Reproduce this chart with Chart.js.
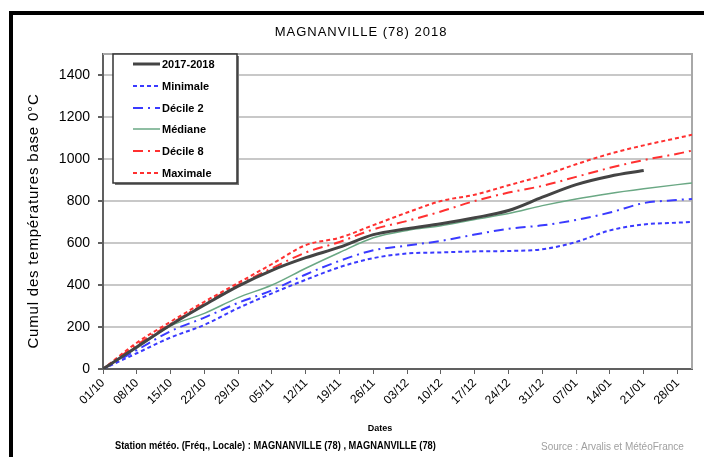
<!DOCTYPE html>
<html>
<head>
<meta charset="utf-8">
<script src="https://cdn.jsdelivr.net/npm/chart.js@4/dist/chart.umd.min.js"></script>
<style>
  html, body { margin: 0; padding: 0; background: #fff; }
  #wrap { width: 704px; height: 457px; position: relative; }
</style>
</head>
<body>
<div id="wrap"><canvas id="chart" width="704" height="457"></canvas></div>
<script>
// ── Data — days counted from 01/10 ──
const days       = [0, 7, 14, 21, 28, 35, 42, 49, 56, 63, 70, 77, 84, 91, 98, 105, 112, 119, 122];
const tickDays   = [0, 7, 14, 21, 28, 35, 42, 49, 56, 63, 70, 77, 84, 91, 98, 105, 112, 119];
const tickLabels = ["01/10", "08/10", "15/10", "22/10", "29/10", "05/11", "12/11", "19/11", "26/11",
                    "03/12", "10/12", "17/12", "24/12", "31/12", "07/01", "14/01", "21/01", "28/01"];
const yTicks     = [0, 200, 400, 600, 800, 1000, 1200, 1400];

const season   = [0, 105, 210, 305, 395, 470, 530, 580, 640, 668, 692, 720, 755, 818, 878, 918, 945];
const minimale = [0, 75, 150, 210, 290, 360, 425, 485, 528, 550, 555, 560, 562, 570, 605, 660, 688, 697, 700];
const decile2  = [0, 90, 180, 245, 315, 375, 450, 515, 565, 588, 610, 640, 668, 684, 710, 745, 790, 805, 810];
const mediane  = [0, 100, 205, 265, 340, 400, 480, 555, 625, 660, 682, 712, 740, 778, 810, 836, 858, 878, 886];
const decile8  = [0, 115, 215, 310, 400, 480, 555, 605, 665, 705, 750, 800, 840, 872, 915, 958, 995, 1025, 1040];
const maximale = [0, 125, 225, 320, 410, 500, 590, 625, 685, 745, 800, 830, 875, 920, 975, 1025, 1065, 1100, 1115];

const seriesNames = ["2017-2018", "Minimale", "Décile 2", "Médiane", "Décile 8", "Maximale"];

function toPoints(values) {
  return values.map((v, i) => ({ x: days[i], y: v }));
}

const BLUE  = "#3a3aff";
const RED   = "#ff3030";
const GREEN = "#6aa884";

const datasets = [
  { label: seriesNames[0], data: toPoints(season),   borderColor: "#444444", borderWidth: 3,   borderDash: [] },
  { label: seriesNames[1], data: toPoints(minimale), borderColor: BLUE,      borderWidth: 2,   borderDash: [4, 3] },
  { label: seriesNames[2], data: toPoints(decile2),  borderColor: BLUE,      borderWidth: 2,   borderDash: [10, 5, 2, 5] },
  { label: seriesNames[3], data: toPoints(mediane),  borderColor: GREEN,     borderWidth: 1.5, borderDash: [] },
  { label: seriesNames[4], data: toPoints(decile8),  borderColor: RED,       borderWidth: 2,   borderDash: [10, 5, 2, 5] },
  { label: seriesNames[5], data: toPoints(maximale), borderColor: RED,       borderWidth: 2,   borderDash: [4, 3] },
].map(d => Object.assign(d, { pointRadius: 0, fill: false, tension: 0.3, cubicInterpolationMode: "monotone" }));

// ── Frame, legend box and loose texts ──
const decor = {
  id: "decor",
  beforeDraw(chart) {
    const ctx = chart.ctx;
    ctx.save();
    ctx.fillStyle = "#fff";
    ctx.fillRect(0, 0, chart.width, chart.height);
    ctx.strokeStyle = "#000";
    ctx.lineWidth = 4;
    ctx.strokeRect(11, 13, 720, 470);
    ctx.restore();
  },
  beforeDatasetsDraw(chart) {
    const { ctx, chartArea: a } = chart;
    ctx.save();
    ctx.strokeStyle = "#a8a8a8";
    ctx.lineWidth = 2;
    ctx.beginPath();
    ctx.moveTo(a.left, a.top);
    ctx.lineTo(a.right, a.top);
    ctx.lineTo(a.right, a.bottom);
    ctx.stroke();
    ctx.restore();
  },
  afterDraw(chart) {
    const ctx = chart.ctx;
    ctx.save();

    // title
    ctx.fillStyle = "#000";
    ctx.font = '13px "Liberation Sans", Arial, sans-serif';
    ctx.textAlign = "center";
    ctx.textBaseline = "middle";
    ctx.letterSpacing = "1px";
    ctx.fillText("MAGNANVILLE (78) 2018", 361, 32);

    // y title
    ctx.save();
    ctx.translate(34, 221);
    ctx.rotate(-Math.PI / 2);
    ctx.font = '15px "Liberation Sans", Arial, sans-serif';
    ctx.letterSpacing = "0.8px";
    ctx.fillText("Cumul des températures base 0°C", 0, 0);
    ctx.restore();
    ctx.letterSpacing = "0px";

    // x title + footnotes
    ctx.font = 'bold 9px "Liberation Sans Narrow", "Liberation Sans", sans-serif';
    ctx.fillText("Dates", 380, 429);
    ctx.textAlign = "left";
    ctx.save();
    ctx.translate(115, 446);
    ctx.scale(0.93, 1);
    ctx.font = 'bold 10px "Liberation Sans Narrow", "Liberation Sans", sans-serif';
    ctx.fillText("Station météo. (Fréq., Locale) : MAGNANVILLE (78) , MAGNANVILLE (78)", 0, 0);
    ctx.restore();
    ctx.fillStyle = "#a0a0a0";
    ctx.font = '10px "Liberation Sans", sans-serif';
    ctx.fillText("Source : Arvalis et MétéoFrance", 541, 447);

    // legend box
    const bx = 113, by = 54, bw = 124, bh = 129;
    ctx.fillStyle = "#777";
    ctx.fillRect(bx + 2, by + 2, bw, bh);
    ctx.fillStyle = "#fff";
    ctx.fillRect(bx, by, bw, bh);
    ctx.strokeStyle = "#333";
    ctx.lineWidth = 1.5;
    ctx.strokeRect(bx, by, bw, bh);

    const rows = [64, 86, 108, 129, 151, 173];
    chart.data.datasets.forEach((ds, i) => {
      const y = rows[i];
      ctx.strokeStyle = ds.borderColor;
      ctx.lineWidth = ds.borderWidth;
      ctx.setLineDash(ds.borderDash);
      ctx.beginPath();
      ctx.moveTo(133, y);
      ctx.lineTo(160, y);
      ctx.stroke();
      ctx.setLineDash([]);
      ctx.fillStyle = "#000";
      ctx.font = 'bold 11px "Liberation Sans Narrow", "Liberation Sans", sans-serif';
      ctx.textAlign = "left";
      ctx.fillText(ds.label, 162, y + 1);
    });

    ctx.restore();
  },
};

new Chart(document.getElementById("chart"), {
  type: "line",
  data: { datasets },
  plugins: [decor],
  options: {
    responsive: false,
    animation: false,
    layout: { padding: { top: 54, right: 12, left: 0, bottom: 0 } },
    plugins: { legend: { display: false }, title: { display: false }, tooltip: { enabled: false } },
    scales: {
      x: {
        type: "linear",
        min: 0,
        max: 122,
        afterFit: (s) => { s.height = 88; },
        afterBuildTicks: (s) => { s.ticks = tickDays.map(v => ({ value: v })); },
        grid: { drawOnChartArea: false, tickLength: 5, tickColor: "#606060" },
        border: { color: "#606060", width: 2 },
        ticks: {
          autoSkip: false,
          minRotation: 45,
          maxRotation: 45,
          padding: 2,
          color: "#000",
          font: { family: '"Liberation Sans", Arial, sans-serif', size: 12 },
          callback: (v) => tickLabels[tickDays.indexOf(v)],
        },
      },
      y: {
        min: 0,
        max: 1500,
        afterFit: (s) => { s.width = 103; },
        afterBuildTicks: (s) => { s.ticks = yTicks.map(v => ({ value: v })); },
        grid: { color: "#c8c8c8", lineWidth: 2, tickLength: 5, tickColor: "#606060" },
        border: { color: "#606060", width: 2 },
        ticks: {
          padding: 8,
          color: "#000",
          font: { family: '"Liberation Sans", Arial, sans-serif', size: 14 },
          callback: (v) => String(v),
        },
      },
    },
  },
});
</script>
</body>
</html>
